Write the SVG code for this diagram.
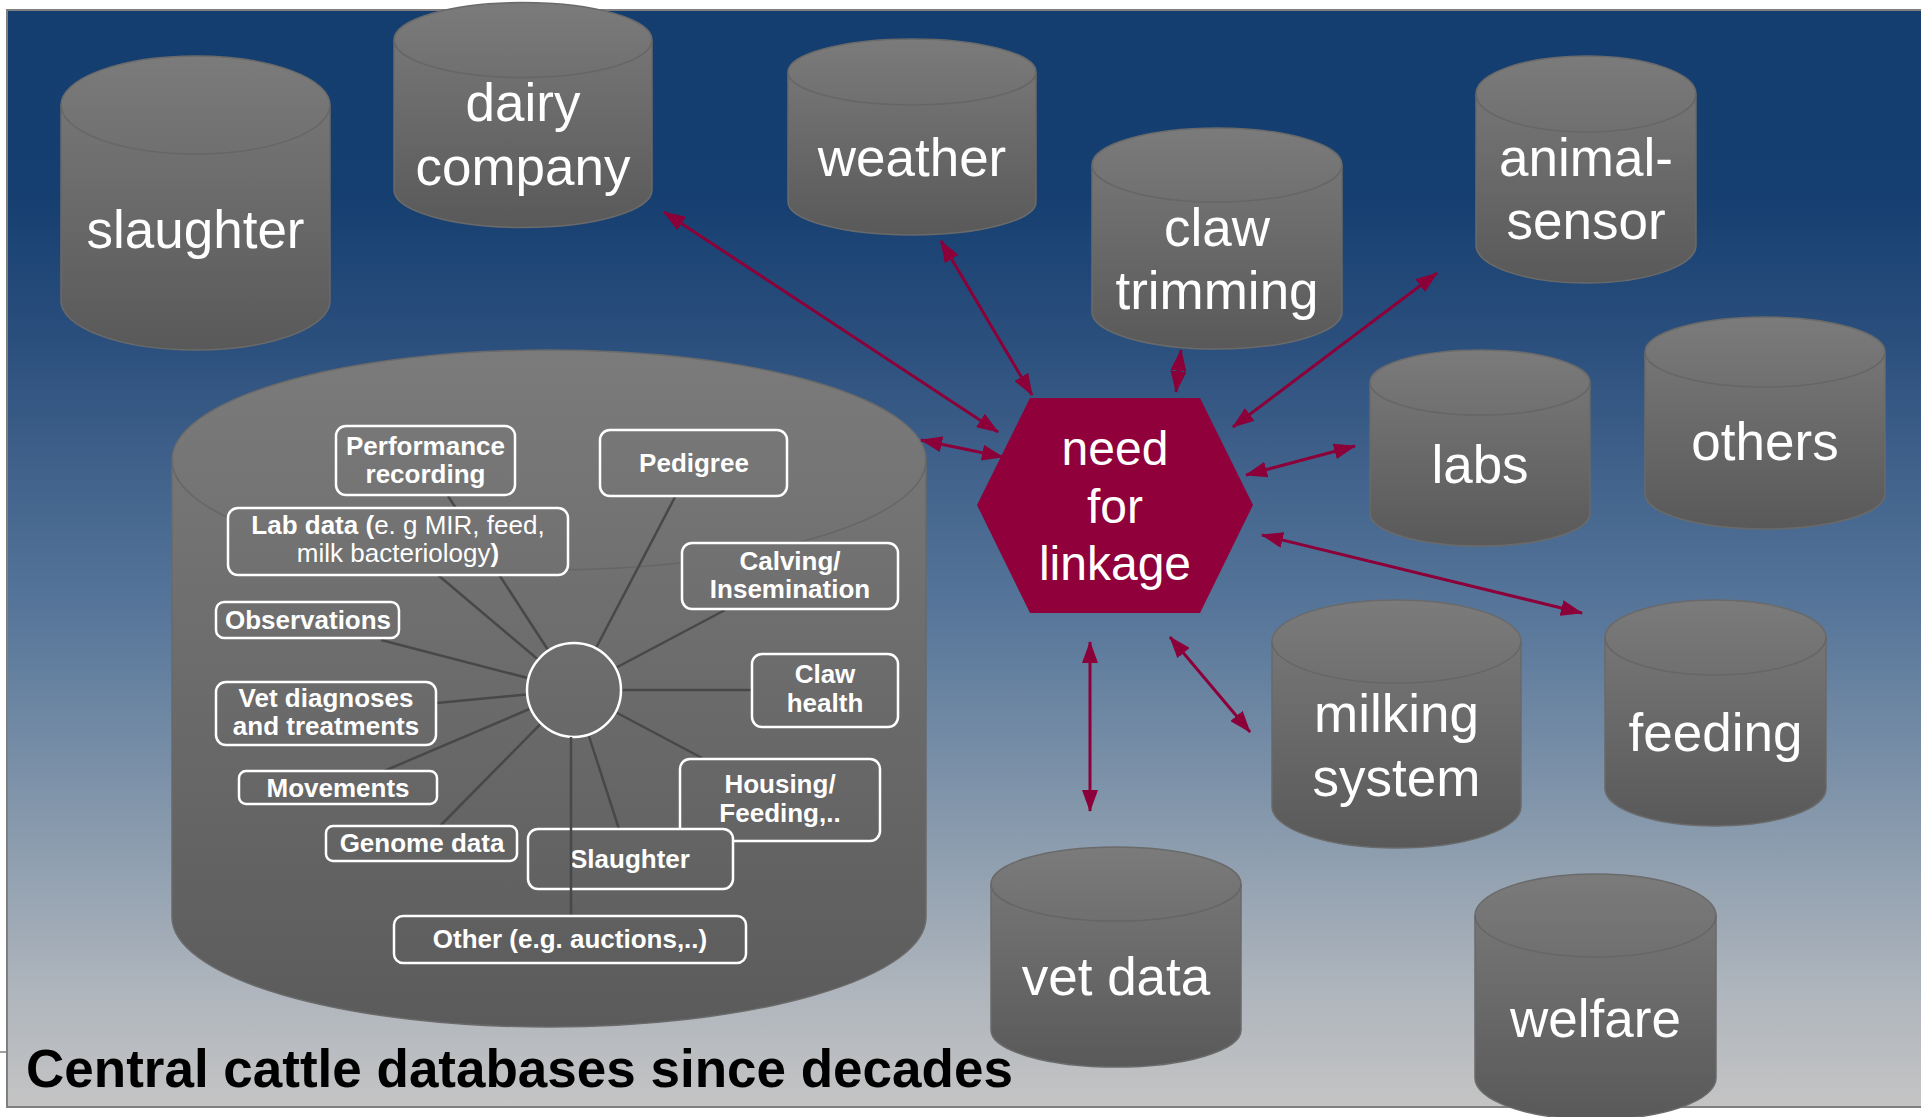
<svg xmlns="http://www.w3.org/2000/svg" width="1921" height="1117" viewBox="0 0 1921 1117">
  <defs>
    <linearGradient id="bg" gradientUnits="userSpaceOnUse" x1="0" y1="10" x2="0" y2="1107">
      <stop offset="0" stop-color="#133e6f"/>
      <stop offset="0.17" stop-color="#153f70"/>
      <stop offset="0.3" stop-color="#2b4f7d"/>
      <stop offset="0.55" stop-color="#57769a"/>
      <stop offset="0.72" stop-color="#8195aa"/>
      <stop offset="0.9" stop-color="#b0b6bd"/>
      <stop offset="1" stop-color="#c4c4c4"/>
    </linearGradient>
    <linearGradient id="cyl" x1="0" y1="0" x2="0" y2="1">
      <stop offset="0" stop-color="#7b7b7b"/>
      <stop offset="1" stop-color="#595959"/>
    </linearGradient>
    <linearGradient id="bigcyl" gradientUnits="userSpaceOnUse" x1="0" y1="350" x2="0" y2="1027">
      <stop offset="0" stop-color="#7b7b7b"/>
      <stop offset="1" stop-color="#5b5b5b"/>
    </linearGradient>
    <marker id="head" viewBox="0 0 22 16" markerWidth="22" markerHeight="16" refX="21" refY="8" orient="auto-start-reverse" markerUnits="userSpaceOnUse">
      <path d="M0,0 L22,8 L0,16 Z" fill="#8c003a"/>
    </marker>
  </defs>
  <style>
    .cyl { fill: url(#cyl); stroke: #6a6a6a; stroke-width: 1.5; }
    .rim { fill: none; stroke: #666666; stroke-width: 1.5; }
    .big { fill: url(#bigcyl); stroke: #6a6a6a; stroke-width: 1.5; }
    .lbl { font-family: "Liberation Sans", Arial, sans-serif; font-size: 53px; fill: #ffffff; text-anchor: middle; }
    .hex { fill: #90003b; }
    .hexlbl { font-family: "Liberation Sans", Arial, sans-serif; font-size: 48px; fill: #ffffff; text-anchor: middle; }
    .box { fill: url(#bigcyl); stroke: #ffffff; stroke-width: 2.5; }
    .btxt { font-family: "Liberation Sans", Arial, sans-serif; font-size: 26px; font-weight: bold; fill: #ffffff; text-anchor: middle; }
    .reg { font-weight: normal; }
    .spoke { stroke: #484848; stroke-width: 2.5; fill: none; }
    .link { stroke: #8c003a; stroke-width: 3; fill: none; marker-start: url(#head); marker-end: url(#head); }
    .title { font-family: "Liberation Sans", Arial, sans-serif; font-size: 53px; font-weight: bold; fill: #000000; }
  </style>

  <!-- backdrop panel -->
  <rect x="7" y="10" width="1915" height="1097" fill="url(#bg)" stroke="#7f7f7f" stroke-width="2"/>
  <line x1="0" y1="1052" x2="7" y2="1052" stroke="#7f7f7f" stroke-width="1.5"/>

  <!-- central database cylinder with its record types -->
  <g id="central-db">
    <path class="big" d="M172,460 A377,110 0 0 1 926,460 L926,917 A377,110 0 0 1 172,917 Z"/>
    <path class="rim" d="M172,460 A377,110 0 0 0 926,460" stroke="#6e6e6e"/>
    <g id="spokes">
      <line class="spoke" x1="574" y1="690" x2="448" y2="496"/>
      <line class="spoke" x1="574" y1="690" x2="438" y2="575"/>
      <line class="spoke" x1="574" y1="690" x2="675" y2="497"/>
      <line class="spoke" x1="574" y1="690" x2="725" y2="610"/>
      <line class="spoke" x1="574" y1="690" x2="381" y2="640"/>
      <line class="spoke" x1="574" y1="690" x2="437" y2="703"/>
      <line class="spoke" x1="574" y1="690" x2="384" y2="771"/>
      <line class="spoke" x1="574" y1="690" x2="752" y2="690"/>
      <line class="spoke" x1="574" y1="690" x2="702" y2="758"/>
      <line class="spoke" x1="574" y1="690" x2="440" y2="826"/>
      <line class="spoke" x1="574" y1="690" x2="619" y2="829"/>
    </g>
    <circle cx="574" cy="690" r="47" fill="url(#bigcyl)" stroke="#ffffff" stroke-width="2.5"/>

    <g id="box-performance">
      <rect class="box" x="336" y="426" width="179" height="69" rx="10"/>
      <text class="btxt" x="425.5" y="455">Performance<tspan x="425.5" dy="28">recording</tspan></text>
    </g>
    <g id="box-pedigree">
      <rect class="box" x="600" y="430" width="187" height="66" rx="10"/>
      <text class="btxt" x="694" y="472">Pedigree</text>
    </g>
    <g id="box-lab">
      <rect class="box" x="228" y="508" width="340" height="67" rx="10"/>
      <text class="btxt" x="398" y="534">Lab data (<tspan class="reg">e. g MIR, feed,</tspan><tspan class="reg" x="398" dy="28">milk bacteriology</tspan>)</text>
    </g>
    <g id="box-calving">
      <rect class="box" x="682" y="543" width="216" height="66" rx="10"/>
      <text class="btxt" x="790" y="570">Calving/<tspan x="790" dy="28">Insemination</tspan></text>
    </g>
    <g id="box-observations">
      <rect class="box" x="216" y="602" width="183" height="36" rx="8"/>
      <text class="btxt" x="308" y="629">Observations</text>
    </g>
    <g id="box-claw">
      <rect class="box" x="752" y="654" width="146" height="73" rx="10"/>
      <text class="btxt" x="825" y="683">Claw<tspan x="825" dy="29">health</tspan></text>
    </g>
    <g id="box-vet">
      <rect class="box" x="216" y="682" width="220" height="63" rx="10"/>
      <text class="btxt" x="326" y="707">Vet diagnoses<tspan x="326" dy="28">and treatments</tspan></text>
    </g>
    <g id="box-movements">
      <rect class="box" x="239" y="771" width="198" height="33" rx="7"/>
      <text class="btxt" x="338" y="797">Movements</text>
    </g>
    <g id="box-housing">
      <rect class="box" x="680" y="759" width="200" height="82" rx="10"/>
      <text class="btxt" x="780" y="793">Housing/<tspan x="780" dy="29">Feeding,..</tspan></text>
    </g>
    <g id="box-genome">
      <rect class="box" x="326" y="826" width="191" height="35" rx="7"/>
      <text class="btxt" x="422" y="852">Genome data</text>
    </g>
    <g id="box-slaughter">
      <rect class="box" x="528" y="829" width="205" height="60" rx="10"/>
      <text class="btxt" x="630" y="868">Slaughter</text>
    </g>
    <line class="spoke" x1="571" y1="737" x2="571" y2="916"/>
    <g id="box-other">
      <rect class="box" x="394" y="916" width="352" height="47" rx="9"/>
      <text class="btxt" x="570" y="948">Other (e.g. auctions,..)</text>
    </g>
  </g>

  <!-- outside data sources -->
  <g id="slaughter">
    <path class="cyl" d="M61,105 A134.5,49 0 0 1 330,105 L330,301 A134.5,49 0 0 1 61,301 Z"/>
    <path class="rim" d="M61,105 A134.5,49 0 0 0 330,105"/>
    <text class="lbl" x="195.5" y="248">slaughter</text>
  </g>
  <g id="dairy-company">
    <path class="cyl" d="M394,40 A129,37.5 0 0 1 652,40 L652,190 A129,37.5 0 0 1 394,190 Z"/>
    <path class="rim" d="M394,40 A129,37.5 0 0 0 652,40"/>
    <text class="lbl" x="523" y="121">dairy<tspan x="523" dy="64">company</tspan></text>
  </g>
  <g id="weather">
    <path class="cyl" d="M788,72 A124,33 0 0 1 1036,72 L1036,202 A124,33 0 0 1 788,202 Z"/>
    <path class="rim" d="M788,72 A124,33 0 0 0 1036,72"/>
    <text class="lbl" x="912" y="176">weather</text>
  </g>
  <g id="claw-trimming">
    <path class="cyl" d="M1092,165 A125,37 0 0 1 1342,165 L1342,312 A125,37 0 0 1 1092,312 Z"/>
    <path class="rim" d="M1092,165 A125,37 0 0 0 1342,165"/>
    <text class="lbl" x="1217" y="246">claw<tspan x="1217" dy="63">trimming</tspan></text>
  </g>
  <g id="animal-sensor">
    <path class="cyl" d="M1476,94 A110,38 0 0 1 1696,94 L1696,245 A110,38 0 0 1 1476,245 Z"/>
    <path class="rim" d="M1476,94 A110,38 0 0 0 1696,94"/>
    <text class="lbl" x="1586" y="176">animal-<tspan x="1586" dy="63">sensor</tspan></text>
  </g>
  <g id="labs">
    <path class="cyl" d="M1370,382.5 A110,32.5 0 0 1 1590,382.5 L1590,513.5 A110,32.5 0 0 1 1370,513.5 Z"/>
    <path class="rim" d="M1370,382.5 A110,32.5 0 0 0 1590,382.5"/>
    <text class="lbl" x="1480" y="483">labs</text>
  </g>
  <g id="others">
    <path class="cyl" d="M1645,352 A120,35 0 0 1 1885,352 L1885,494 A120,35 0 0 1 1645,494 Z"/>
    <path class="rim" d="M1645,352 A120,35 0 0 0 1885,352"/>
    <text class="lbl" x="1765" y="460">others</text>
  </g>
  <g id="milking-system">
    <path class="cyl" d="M1272,641.5 A124.5,41.5 0 0 1 1521,641.5 L1521,806.5 A124.5,41.5 0 0 1 1272,806.5 Z"/>
    <path class="rim" d="M1272,641.5 A124.5,41.5 0 0 0 1521,641.5"/>
    <text class="lbl" x="1396.5" y="732">milking<tspan x="1396.5" dy="64">system</tspan></text>
  </g>
  <g id="feeding">
    <path class="cyl" d="M1605,637.5 A110.5,37.5 0 0 1 1826,637.5 L1826,788.5 A110.5,37.5 0 0 1 1605,788.5 Z"/>
    <path class="rim" d="M1605,637.5 A110.5,37.5 0 0 0 1826,637.5"/>
    <text class="lbl" x="1715.5" y="751">feeding</text>
  </g>
  <g id="vet-data">
    <path class="cyl" d="M991,884 A125,37 0 0 1 1241,884 L1241,1030 A125,37 0 0 1 991,1030 Z"/>
    <path class="rim" d="M991,884 A125,37 0 0 0 1241,884"/>
    <text class="lbl" x="1116" y="995">vet data</text>
  </g>
  <g id="welfare">
    <path class="cyl" d="M1475,915.5 A120.5,41.5 0 0 1 1716,915.5 L1716,1078 A120.5,41.5 0 0 1 1475,1078 Z"/>
    <path class="rim" d="M1475,915.5 A120.5,41.5 0 0 0 1716,915.5"/>
    <text class="lbl" x="1595.5" y="1037">welfare</text>
  </g>

  <!-- linkage hub -->
  <g id="need-for-linkage">
    <polygon class="hex" points="1030,398 1200,398 1253,505 1200,613 1030,613 977,505"/>
    <text class="hexlbl" x="1115" y="465">need<tspan x="1115" dy="58">for</tspan><tspan x="1115" dy="57">linkage</tspan></text>
  </g>

  <!-- two-way links between the hub and each source -->
  <g id="connectors">
    <line class="link" x1="664" y1="212" x2="998" y2="432"/>
    <line class="link" x1="941" y1="241" x2="1032" y2="395"/>
    <line class="link" x1="1181" y1="350" x2="1176" y2="392"/>
    <line class="link" x1="1233" y1="427" x2="1437" y2="273"/>
    <line class="link" x1="921" y1="440" x2="1003" y2="457"/>
    <line class="link" x1="1246" y1="475" x2="1355" y2="446"/>
    <line class="link" x1="1262" y1="535" x2="1582" y2="613"/>
    <line class="link" x1="1090" y1="642" x2="1090" y2="811"/>
    <line class="link" x1="1170" y1="637" x2="1250" y2="732"/>
  </g>

  <text class="title" x="26" y="1087">Central cattle databases since decades</text>
</svg>
